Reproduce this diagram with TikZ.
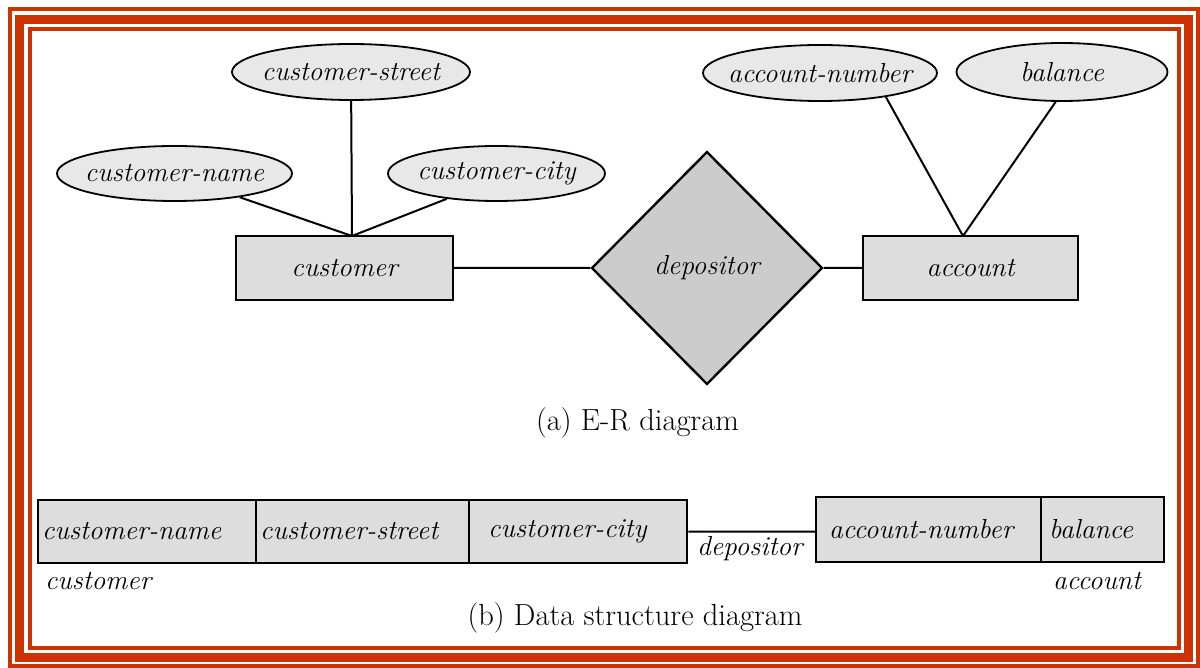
\documentclass[tikz,border=0pt]{standalone}
\usepackage{fontspec}
\usetikzlibrary{shapes.geometric}

\definecolor{framered}{RGB}{204,51,0}
\definecolor{attrfill}{gray}{0.91}
\definecolor{entfill}{gray}{0.865}
\definecolor{relfill}{gray}{0.80}

\tikzset{
	itfont/.style = {font = \itshape\fontsize{27.5}{31}\selectfont},
	attr/.style = {ellipse, draw, line width = 1.8pt, fill = attrfill, inner xsep = -25pt, inner ysep = 0pt, itfont},
	ent/.style = {rectangle, draw, line width = 2.4pt, fill = entfill, inner sep = 0pt, minimum width = 217pt, minimum height = 64pt, itfont},
	rel/.style = {diamond, draw, line width = 2.4pt, fill = relfill, inner sep = 0pt, minimum width = 231pt, minimum height = 233pt, itfont},
	cell/.style = {rectangle, draw, line width = 2.4pt, fill = entfill, anchor = west, inner xsep = 4pt, inner ysep = 0pt, minimum height = 63pt, align = left, itfont},
	lbl/.style = {inner sep = 0pt, itfont},
	captext/.style = {inner sep = 0pt, font = \fontsize{30.5}{34}\selectfont}
}

\begin{document}
\begin{tikzpicture}[x = 1pt, y = -1pt]
	\useasboundingbox (0,0) rectangle (1200,668);
	\draw[framered, line width = 4pt] (10,9) rectangle (1198,666);
	\draw[framered, line width = 9pt] (19.5,19.5) rectangle (1188.5,657.5);
	\draw[framered, line width = 4pt] (30,29) rectangle (1179,648);

	\draw[line width = 2pt]

	(351,72) node[attr, minimum width = 238pt, minimum height = 56pt](CStreet){customer-street}
	(174.5,173.5) node[attr, minimum width = 235pt, minimum height = 55pt](CName){customer-name}
	(496.5,173.5) node[attr, minimum width = 217pt, minimum height = 55pt](CCity){customer-city}
	(820,73) node[attr, minimum width = 234pt, minimum height = 56pt](ANum){account-number}
	(1062,72) node[attr, minimum width = 211pt, minimum height = 58pt](Bal){balance}
	(344.5,268) node[ent](Cust){customer}
	(707,268) node[rel](Dep){depositor}
	(970.5,268) node[ent, minimum width = 215pt](Acct){account}
	(637.5,423) node[captext](CapA){(a) E-R diagram}

	(37,531.5) node[cell, text width = 210pt](BName){customer-name}
	(255,531.5) node[cell, text width = 205pt](BStreet){customer-street}
	(468,531.5) node[cell, text width = 180pt, inner xsep = 19pt](BCity){customer-city}
	(815,529.5) node[cell, text width = 199pt, inner xsep = 13pt, minimum height = 65pt](BNum){account-number}
	(1040,529.5) node[cell, text width = 107pt, inner xsep = 8pt, minimum height = 65pt](BBal){balance}
	(44,589) node[lbl, anchor = base west](LCust){customer}
	(696,555) node[lbl, anchor = base west](LDep){depositor}
	(1142,589) node[lbl, anchor = base east](LAcct){account}
	(635,618) node[captext](CapB){(b) Data structure diagram}

	(352,236) coordinate(CustTop)
	(963,236) coordinate(AcctTop)
	(CName.-20) -- (CustTop)
	(CStreet) -- (CustTop)
	(CCity.207) -- (CustTop)
	(Cust) -- (Dep)
	(Dep) -- (Acct)
	(ANum.-20) -- (AcctTop)
	(Bal.258) -- (AcctTop)
	(BCity.east) -- (BCity.east -| BNum.west);
\end{tikzpicture}
\end{document}
